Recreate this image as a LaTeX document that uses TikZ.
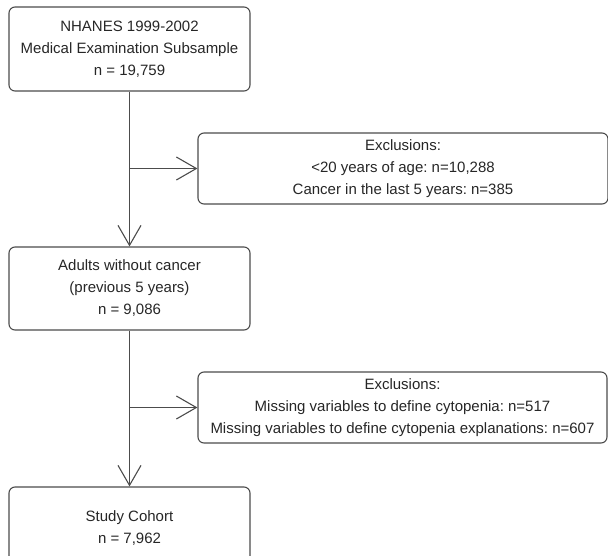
\documentclass[tikz,border=0pt]{standalone}
\usepackage{fontspec}
\setmainfont{Liberation Sans}
\usetikzlibrary{arrows.meta}
\frenchspacing
\tikzset{
  flowbox/.style={draw=black!70, line width=1.1pt, rounded corners=6pt, inner sep=0pt,
    align=center, text=black!85, font=\fontsize{15}{22}\selectfont},
  flowarrow/.style={draw=black!70, line width=1.1pt, -{Straight Barb[length=20pt,width=23pt,line width=1.1pt]}}
}
\begin{document}
\begin{tikzpicture}[x=1pt,y=-1pt]
\clip (0,0) rectangle (608,555);
\node [flowbox, minimum width=241pt, minimum height=84pt] (nhanes) at (129.5,49)
  {NHANES 1999-2002\\Medical Examination Subsample\\n = 19,759};
\node [flowbox, minimum width=410pt, minimum height=71pt] (excl1) at (403,168.5)
  {Exclusions:\\<20 years of age: n=10,288\\Cancer in the last 5 years: n=385};
\node [flowbox, minimum width=241pt, minimum height=83pt] (adults) at (129.5,288.5)
  {Adults without cancer\\(previous 5 years)\\n = 9,086};
\node [flowbox, minimum width=409pt, minimum height=71pt] (excl2) at (402.5,407.5)
  {Exclusions:\\Missing variables to define cytopenia: n=517\\Missing variables to define cytopenia explanations: n=607};
\node [flowbox, minimum width=241pt, minimum height=82pt] (cohort) at (129.5,528)
  {Study Cohort\\n = 7,962};
% branch points on the main line
\coordinate (split1) at (nhanes.south |- excl1.west);
\coordinate (split2) at (adults.south |- excl2.west);
\draw [flowarrow] (nhanes) -- (adults);
\draw [flowarrow] (adults) -- (cohort);
\draw [flowarrow] (split1) -- (excl1);
\draw [flowarrow] (split2) -- (excl2);
\end{tikzpicture}
\end{document}
